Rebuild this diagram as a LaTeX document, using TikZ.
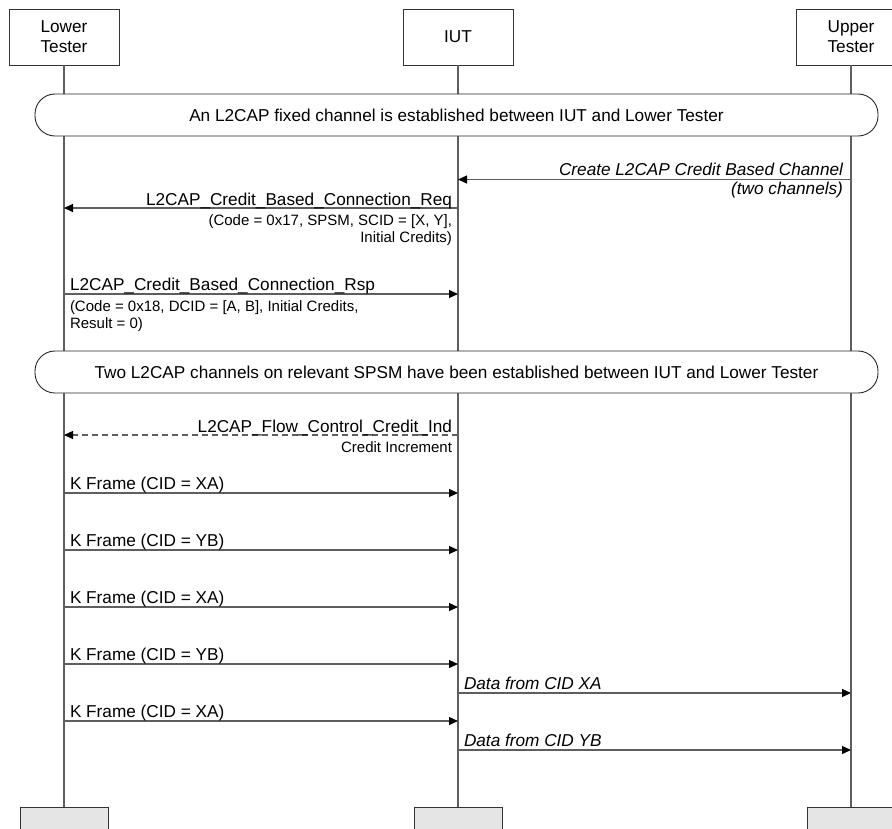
\documentclass[tikz,border=0pt]{standalone}
\usepackage{fontspec}
\setmainfont{Liberation Sans}
\usetikzlibrary{arrows.meta}
\definecolor{ln}{HTML}{5E5E5E}
\begin{document}
\begin{tikzpicture}[x=1pt,y=-1pt,
  every node/.style={inner sep=0pt, outer sep=0pt},
  big/.style={font=\fontsize{17.2}{20}\selectfont},
  small/.style={font=\fontsize{15}{17}\selectfont},
  actor/.style={draw=black!80, line width=1pt, minimum width=110pt, minimum height=56pt, align=center, big},
  endbox/.style={draw=black!80, line width=1pt, fill=black!10, minimum width=88pt, minimum height=40pt},
  life/.style={draw=ln, line width=1.3pt},
  msg/.style={draw=ln, line width=1.3pt, -{Triangle[length=9pt,width=8pt,color=black]}},
  dmsg/.style={msg, dash pattern=on 6pt off 4pt},
  statebox/.style={draw=black!85, rounded corners=20pt, line width=0.9pt, minimum width=843pt, minimum height=42pt, big, fill=white}
]
\clip (0,0) rectangle (892,828);
\fill[white] (0,0) rectangle (892,828);
% actors
\node[actor] (lt) at (64,37) {Lower\\Tester};
\node[actor] (iut) at (458,37) {IUT};
\node[actor] (ut) at (851,37) {Upper\\Tester};
\node[endbox, anchor=north] (ltb) at (64,807) {};
\node[endbox, anchor=north] (iutb) at (458,807) {};
\node[endbox, anchor=north] (utb) at (851,807) {};
% lifelines
\draw[life] (lt.south) -- (ltb.north);
\draw[life] (iut.south) -- (iutb.north);
\draw[life, line width=1.8pt] (ut.south) -- (utb.north);
% states
\node[statebox] (s1) at (456.5,115) {An L2CAP fixed channel is established between IUT and Lower Tester};
\node[statebox] (s2) at (456.5,372) {Two L2CAP channels on relevant SPSM have been established between IUT and Lower Tester};
% messages
\draw[msg] (ut |- 0,179.5) -- (iut |- 0,179.5);
\node[big, anchor=base east] (m1a) at (843,175.5) {\itshape Create L2CAP Credit Based Channel};
\node[big, anchor=base east] (m1b) at (843,194) {\itshape (two channels)};

\draw[msg] (iut |- 0,208) -- (lt |- 0,208);
\node[big, anchor=base east] (m2a) at (452,205) {L2CAP\_Credit\_Based\_Connection\_Req};
\node[small, anchor=base east] (m2b) at (452,225) {(Code = 0x17, SPSM, SCID = [X, Y],};
\node[small, anchor=base east] (m2c) at (452,242) {Initial Credits)};

\draw[msg] (lt |- 0,294) -- (iut |- 0,294);
\node[big, anchor=base west] (m3a) at (70,290.5) {L2CAP\_Credit\_Based\_Connection\_Rsp};
\node[small, anchor=base west] (m3b) at (70,311) {(Code = 0x18, DCID = [A, B], Initial Credits,};
\node[small, anchor=base west] (m3c) at (70,328) {Result = 0)};

\draw[dmsg] (iut |- 0,435) -- (lt |- 0,435);
\node[big, anchor=base east] (m4a) at (452,432) {L2CAP\_Flow\_Control\_Credit\_Ind};
\node[small, anchor=base east] (m4b) at (452,452) {Credit Increment};

\draw[msg] (lt |- 0,493) -- (iut |- 0,493);
\node[big, anchor=base west] (k1) at (70,489.5) {K Frame (CID = XA)};
\draw[msg] (lt |- 0,550) -- (iut |- 0,550);
\node[big, anchor=base west] (k2) at (70,546.5) {K Frame (CID = YB)};
\draw[msg] (lt |- 0,607) -- (iut |- 0,607);
\node[big, anchor=base west] (k3) at (70,603.5) {K Frame (CID = XA)};
\draw[msg] (lt |- 0,664) -- (iut |- 0,664);
\node[big, anchor=base west] (k4) at (70,660.5) {K Frame (CID = YB)};
\draw[msg] (lt |- 0,721) -- (iut |- 0,721);
\node[big, anchor=base west] (k5) at (70,717.5) {K Frame (CID = XA)};

\draw[msg] (iut |- 0,693) -- (ut |- 0,693);
\node[big, anchor=base west] (d1) at (464,689.5) {\itshape Data from CID XA};
\draw[msg] (iut |- 0,750) -- (ut |- 0,750);
\node[big, anchor=base west] (d2) at (464,746.5) {\itshape Data from CID YB};
\end{tikzpicture}
\end{document}
